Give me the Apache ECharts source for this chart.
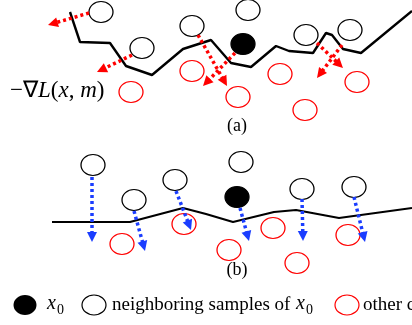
<!DOCTYPE html>
<html>
<head>
<meta charset="utf-8">
<script src="https://cdn.jsdelivr.net/npm/echarts@6/dist/echarts.min.js"></script>
<style>
  html, body { margin: 0; background: #fff; }
  #chart { width: 412px; height: 325px; }
</style>
</head>
<body>
<div id="chart"></div>
<script>
// panel (a): loss boundary, samples and gradient arrows (pixel-like units)
const lossCurveA = [[70,12],[80,42],[110,43],[126,66],[152,75],[183,49],[211,40],[231,63],[251,67],[276,46],[289,51],[313,53],[326,33],[332,35],[343,49],[361,53],[412,11]];
const anchorA = [[243,44]];
const neighborsA = [[101,12],[142,48],[192,26],[248,10],[306,35],[350,30]];
const othersA = [[131,92],[192,71],[280,74],[238,97],[305,110],[357,82]];
const arrowsA = [
  [[89,13],[48,25]],
  [[132,55],[97,72]],
  [[198,35],[227,86]],
  [[235,53],[203,86]],
  [[317,43],[343,68]],
  [[342,45],[317,78]]
];

// panel (b)
const lossCurveB = [[52,222],[130,222],[183,208],[206,214],[233,222],[274,212],[296,210],[339,218],[412,208]];
const anchorB = [[237,197]];
const neighborsB = [[93,165],[134,200],[175,180],[241,162],[302,189],[354,187]];
const othersB = [[122,244],[184,224],[273,228],[229,250],[297,263],[348,235]];
const arrowsB = [
  [[92,177],[92,242]],
  [[134,211],[145,251]],
  [[176,191],[191,230]],
  [[240,208],[249,241]],
  [[302,199],[303,241]],
  [[354,197],[365,242]]
];

const SERIF = "Liberation Serif";
const HEAD = 10;

// pull the end back so the arrow tip lands on the given point
function toTip(seg) {
  const [a, b] = seg;
  const dx = b[0] - a[0], dy = b[1] - a[1];
  const len = Math.hypot(dx, dy);
  return { coords: [a, [b[0] - dx / len * HEAD / 2, b[1] - dy / len * HEAD / 2]] };
}

function circles(data, stroke, fill) {
  return {
    type: "scatter",
    data: data,
    symbol: "circle",
    symbolSize: [24, 21],
    itemStyle: { color: fill, borderColor: stroke, borderWidth: 1.2, opacity: 1 },
    z: 3
  };
}

function arrows(data, color) {
  return {
    type: "lines",
    coordinateSystem: "cartesian2d",
    data: data.map(toTip),
    symbol: ["none", "triangle"],
    symbolSize: HEAD,
    lineStyle: { color: color, width: 3.5, type: [3, 3], opacity: 1 },
    z: 4
  };
}

function curve(data, width) {
  return {
    type: "line",
    data: data,
    symbol: "none",
    lineStyle: { color: "#000", width: width },
    z: 2
  };
}

const chart = echarts.init(document.getElementById("chart"));
chart.setOption({
  animation: false,
  grid: { left: 0, right: 0, top: 0, bottom: 0 },
  xAxis: { type: "value", min: 0, max: 412, show: false },
  yAxis: { type: "value", min: 0, max: 325, inverse: true, show: false },
  series: [
    curve(lossCurveA, 2.4),
    curve(lossCurveB, 2.2),
    circles(neighborsA, "#000", "rgba(0,0,0,0)"),
    circles(othersA, "#f00", "rgba(0,0,0,0)"),
    circles(anchorA, "#000", "#000"),
    circles(neighborsB, "#000", "rgba(0,0,0,0)"),
    circles(othersB, "#f00", "rgba(0,0,0,0)"),
    circles(anchorB, "#000", "#000"),
    arrows(arrowsA, "#ff0000"),
    arrows(arrowsB, "#1a3dff")
  ],
  graphic: [
    {
      type: "text", left: 10, top: 79,
      style: {
        text: "{u|−∇}{i|L}{u|(}{i|x}{u|, }{i|m}{u|)}",
        rich: {
          u: { fontFamily: SERIF, fontSize: 23, fill: "#000" },
          i: { fontFamily: SERIF, fontSize: 23, fontStyle: "italic", fill: "#000" }
        }
      }
    },
    { type: "text", x: 237, y: 126, style: { text: "(a)", font: "18px " + SERIF, fill: "#000", align: "center", verticalAlign: "middle" } },
    { type: "text", x: 237, y: 270, style: { text: "(b)", font: "18px " + SERIF, fill: "#000", align: "center", verticalAlign: "middle" } },

    // legend
    { type: "ellipse", shape: { cx: 25, cy: 305, rx: 11.5, ry: 10 }, style: { fill: "#000" } },
    { type: "text", x: 47, y: 304, style: { text: "x", font: "italic 20px " + SERIF, fill: "#000", verticalAlign: "middle" } },
    { type: "text", x: 57, y: 310, style: { text: "0", font: "14px " + SERIF, fill: "#000", verticalAlign: "middle" } },
    { type: "ellipse", shape: { cx: 94, cy: 305, rx: 12, ry: 10 }, style: { fill: "none", stroke: "#000", lineWidth: 1.2 } },
    { type: "text", x: 112, y: 305, style: { text: "neighboring samples of", font: "19px " + SERIF, fill: "#000", verticalAlign: "middle" } },
    { type: "text", x: 296, y: 304, style: { text: "x", font: "italic 20px " + SERIF, fill: "#000", verticalAlign: "middle" } },
    { type: "text", x: 306, y: 310, style: { text: "0", font: "14px " + SERIF, fill: "#000", verticalAlign: "middle" } },
    { type: "ellipse", shape: { cx: 347, cy: 305, rx: 12, ry: 10 }, style: { fill: "none", stroke: "#f00", lineWidth: 1.2 } },
    { type: "text", x: 363, y: 305, style: { text: "other classes", font: "19px " + SERIF, fill: "#000", verticalAlign: "middle" } }
  ]
});
</script>
</body>
</html>
